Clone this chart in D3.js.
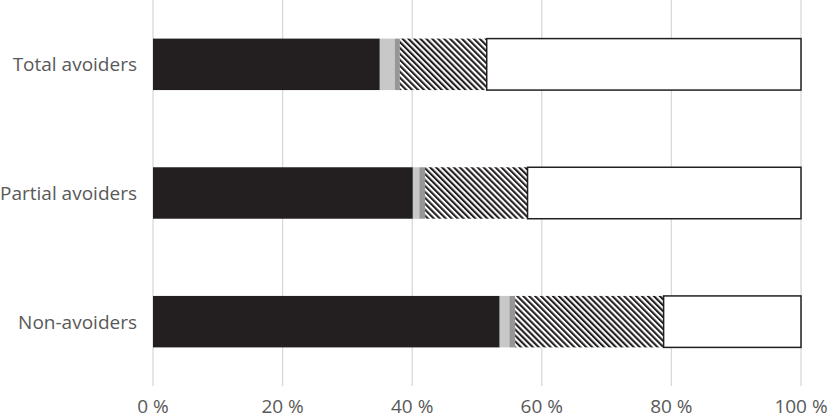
<!DOCTYPE html>
<html><head><meta charset="utf-8">
<script src="https://cdn.jsdelivr.net/npm/d3@7"></script>
<style>body{margin:0;background:#fff}svg{display:block}</style>
</head><body>
<svg id="c" width="834" height="419"></svg>
<script>
const categories = ["Total avoiders", "Partial avoiders", "Non-avoiders"];
const seriesNames = ["s1", "s2", "s3", "s4", "s5"];
const s1 = [35.0, 40.1, 53.5];
const s2 = [2.3, 1.0, 1.5];
const s3 = [0.8, 0.9, 0.9];
const s4 = [13.4, 15.8, 22.9];
const s5 = [48.5, 42.2, 21.2];
const tickValues = [0, 20, 40, 60, 80, 100];
const tickLabels = ["0 %", "20 %", "40 %", "60 %", "80 %", "100 %"];

const seriesVals = [s1, s2, s3, s4, s5];
const rows = categories.map((c, i) => {
  const o = {cat: c};
  seriesNames.forEach((s, k) => o[s] = seriesVals[k][i]);
  return o;
});
const stacked = d3.stack().keys(seriesNames)(rows);

const svg = d3.select("#c");
const defs = svg.append("defs");
const P = 4.2;
const pat = defs.append("pattern").attr("id", "hatch")
  .attr("patternUnits", "userSpaceOnUse").attr("width", P).attr("height", P)
  .attr("patternTransform", "rotate(-45)");
pat.append("rect").attr("width", P).attr("height", P).attr("fill", "#fff");
pat.append("rect").attr("width", P / 2).attr("height", P).attr("fill", "#231f20");

const x = d3.scaleLinear().domain([0, 100]).range([153, 801]);
const y = d3.scaleBand().domain(categories).range([0, 386]).paddingInner(0.6).paddingOuter(0.3);

// gridlines
svg.append("g").selectAll("line").data(tickValues).join("line")
  .attr("x1", d => x(d)).attr("x2", d => x(d))
  .attr("y1", 0).attr("y2", 386)
  .attr("stroke", "#d9d9d9").attr("stroke-width", 1.3);

const fills = ["#231f20", "#c8c8c8", "#969696", "url(#hatch)", "#ffffff"];
stacked.forEach((layer, k) => {
  svg.append("g").selectAll("rect").data(layer).join("rect")
    .attr("x", d => x(d[0]))
    .attr("width", d => x(d[1]) - x(d[0]))
    .attr("y", d => y(d.data.cat))
    .attr("height", y.bandwidth())
    .attr("fill", fills[k])
    .attr("stroke", k === 4 ? "#231f20" : "none")
    .attr("stroke-width", k === 4 ? 1.5 : 0);
});

// y labels
svg.append("g").selectAll("text").data(categories).join("text")
  .attr("x", 137).attr("y", d => y(d) + y.bandwidth() / 2)
  .attr("dy", "0.36em").attr("text-anchor", "end")
  .attr("font-family", "Open Sans, sans-serif").attr("font-size", 19)
  .attr("fill", "#595959").text(d => d);

// x tick labels
svg.append("g").selectAll("text").data(tickValues).join("text")
  .attr("x", d => x(d)).attr("y", 413)
  .attr("text-anchor", "middle")
  .attr("font-family", "Open Sans, sans-serif").attr("font-size", 19)
  .attr("fill", "#595959").text((d, i) => tickLabels[i]);
</script>
</body></html>
